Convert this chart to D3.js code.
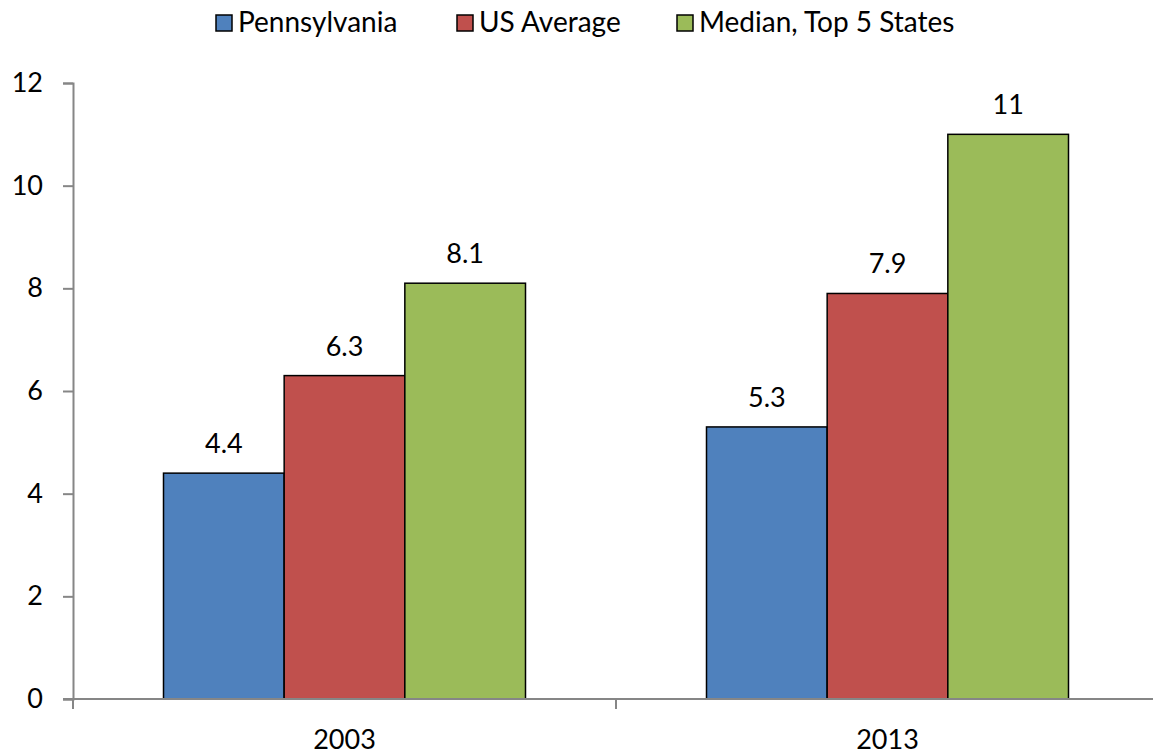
<!DOCTYPE html>
<html>
<head>
<meta charset="utf-8">
<script src="https://cdn.jsdelivr.net/npm/d3@7"></script>
<style>
  body { margin: 0; background: #fff; }
  svg { display: block; font-family: Lato, "Open Sans", sans-serif; }
</style>
</head>
<body>
<div id="chart"></div>
<script>
// chart data
var categories = ["2003", "2013"];
var seriesNames = ["Pennsylvania", "US Average", "Median, Top 5 States"];
var pennsylvania = [4.4, 5.3];
var usAverage = [6.3, 7.9];
var medianTop5 = [8.1, 11];
var yTicks = [0, 2, 4, 6, 8, 10, 12];

var seriesValues = [pennsylvania, usAverage, medianTop5];
var colors = ["#4F81BD", "#C0504D", "#9BBB59"];

var width = 1153, height = 754;
var fontSize = 27;
var axisColor = "#868686";

var svg = d3.select("#chart").append("svg")
    .attr("width", width)
    .attr("height", height);

// scales
var x0 = d3.scaleBand()
    .domain(categories)
    .range([73, 1159])
    .paddingInner(0)
    .paddingOuter(0);

var x1 = d3.scaleBand()
    .domain(seriesNames)
    .range([0, x0.bandwidth()])
    .paddingInner(0)
    .paddingOuter(0.75);

var y = d3.scaleLinear()
    .domain([0, 12])
    .range([699, 83]);

// bars
var groups = svg.selectAll(".group")
    .data(categories)
    .enter()
    .append("g")
    .attr("class", "group")
    .attr("transform", (d) => "translate(" + x0(d) + ",0)");

groups.each(function (cat, ci) {
    var g = d3.select(this);
    seriesNames.forEach((name, si) => {
        var v = seriesValues[si][ci];
        g.append("rect")
            .attr("x", x1(name))
            .attr("y", y(v))
            .attr("width", x1.bandwidth())
            .attr("height", y(0) - y(v))
            .attr("fill", colors[si])
            .attr("stroke", "#000")
            .attr("stroke-width", 1.5);
        g.append("text")
            .attr("x", x1(name) + x1.bandwidth() / 2)
            .attr("y", y(v) - 20)
            .attr("text-anchor", "middle")
            .attr("font-size", fontSize)
            .attr("fill", "#000")
            .text(v);
    });
});

// y axis
var yAxis = svg.append("g")
    .attr("transform", "translate(73,0)")
    .call(d3.axisLeft(y).tickValues(yTicks).tickSize(10).tickPadding(20));
yAxis.select(".domain").attr("stroke", axisColor).attr("stroke-width", 2);
yAxis.selectAll(".tick line").attr("stroke", axisColor).attr("stroke-width", 2);
yAxis.selectAll(".tick text")
    .attr("font-size", fontSize)
    .attr("font-family", "Lato, sans-serif")
    .attr("fill", "#000");

// x axis
var xAxisG = svg.append("g").attr("transform", "translate(0," + y(0) + ")");
xAxisG.append("line")
    .attr("x1", 63).attr("x2", 1159)
    .attr("y1", 0).attr("y2", 0)
    .attr("stroke", axisColor).attr("stroke-width", 2);
var boundaries = categories.map((c) => x0(c)).concat([x0.range()[1]]);
xAxisG.selectAll(".xtick")
    .data(boundaries)
    .enter()
    .append("line")
    .attr("x1", (d) => d).attr("x2", (d) => d)
    .attr("y1", 0).attr("y2", 10)
    .attr("stroke", axisColor).attr("stroke-width", 2);
xAxisG.selectAll(".xlabel")
    .data(categories)
    .enter()
    .append("text")
    .attr("x", (d) => x0(d) + x0.bandwidth() / 2)
    .attr("y", 50)
    .attr("text-anchor", "middle")
    .attr("font-size", fontSize)
    .attr("fill", "#000")
    .text((d) => d);

// legend
var legendX = [216, 457, 677];
var legend = svg.selectAll(".legend")
    .data(seriesNames)
    .enter()
    .append("g")
    .attr("class", "legend")
    .attr("transform", (d, i) => "translate(" + legendX[i] + ",15)");
legend.append("rect")
    .attr("width", 16).attr("height", 16)
    .attr("fill", (d, i) => colors[i])
    .attr("stroke", "#000")
    .attr("stroke-width", 1.5);
legend.append("text")
    .attr("x", 22)
    .attr("y", 17)
    .attr("font-size", 28)
    .attr("fill", "#000")
    .text((d) => d);
</script>
</body>
</html>
